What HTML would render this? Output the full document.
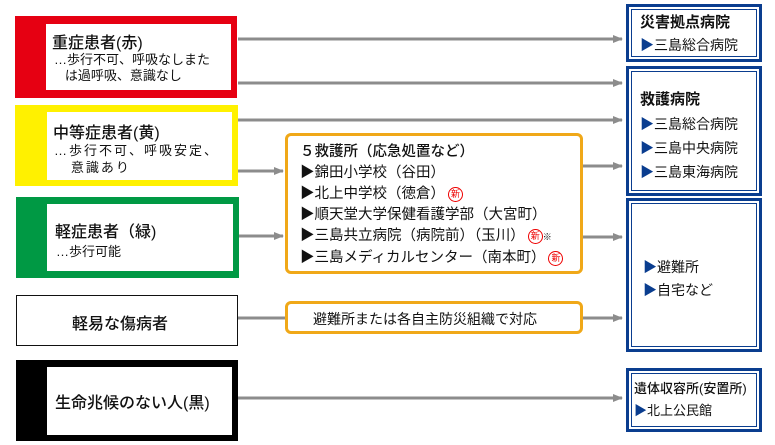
<!DOCTYPE html>
<html><head><meta charset="utf-8"><style>
body{margin:0;width:775px;height:445px;background:#fff;position:relative;overflow:hidden;font-family:"Liberation Sans","Noto Sans CJK JP",sans-serif;color:#111}
.a{position:absolute;box-sizing:border-box}
.in{position:absolute;background:#fff;box-sizing:border-box}
.db{position:absolute;box-sizing:border-box;border:3px solid #0a3d8f;}
.db::after{content:"";position:absolute;left:2px;top:2px;right:2px;bottom:2px;border:1px solid #0a3d8f}
.t{position:absolute;white-space:nowrap}
.h{font-weight:500}
.tri{color:#0a3d8f}
.org{position:absolute;box-sizing:border-box;border:3px solid #f0a818;border-radius:6px;background:#fff}
.shin{display:inline-block;width:13px;height:13px;border:1px solid #e00;border-radius:50%;color:#e00;font-size:9px;line-height:13px;text-align:center;vertical-align:1px;margin-left:3px}
</style></head><body>
<svg class="a" style="left:0;top:0" width="775" height="445">
<defs><marker id="m" markerWidth="10" markerHeight="8" refX="9" refY="4" orient="auto" markerUnits="userSpaceOnUse"><path d="M0,0L10,4L0,8z" fill="#8c8c8c"/></marker></defs>
<g stroke="#8c8c8c" stroke-width="3" fill="none">
<line x1="238" y1="39" x2="622" y2="39" marker-end="url(#m)"/>
<line x1="238" y1="83" x2="622" y2="83" marker-end="url(#m)"/>
<line x1="238" y1="120" x2="622" y2="120" marker-end="url(#m)"/>
<line x1="238" y1="171" x2="283" y2="171" marker-end="url(#m)"/>
<line x1="238" y1="236" x2="283" y2="236" marker-end="url(#m)"/>
<line x1="583" y1="166" x2="622" y2="166" marker-end="url(#m)"/>
<line x1="583" y1="237" x2="622" y2="237" marker-end="url(#m)"/>
<line x1="238" y1="318" x2="286" y2="318"/>
<line x1="583" y1="318" x2="622" y2="318" marker-end="url(#m)"/>
<line x1="238" y1="398" x2="622" y2="398" marker-end="url(#m)"/>
</g></svg>

<div class="a" style="left:15px;top:16px;width:222px;height:82px;background:#e60012"></div>
<div class="in" style="left:46px;top:24px;width:185px;height:66px"></div>
<div class="t h" style="left:52px;top:29px;font-size:16px">重症患者(赤)</div>
<div class="t" style="left:54px;top:52px;font-size:13px;line-height:16px">…歩行不可、呼吸なしまた<br>&nbsp;&nbsp;&nbsp;は過呼吸、意識なし</div>

<div class="a" style="left:15px;top:105px;width:223px;height:81px;background:#fff100"></div>
<div class="in" style="left:47px;top:112px;width:185px;height:68px"></div>
<div class="t h" style="left:53px;top:119px;font-size:16px">中等症患者(黄)</div>
<div class="t" style="left:54px;top:142px;font-size:13px;line-height:17px;letter-spacing:2px">…歩行不可、呼吸安定、<br>&nbsp;&nbsp;&nbsp;意識あり</div>

<div class="a" style="left:16px;top:197px;width:223px;height:81px;background:#009944"></div>
<div class="in" style="left:47px;top:204px;width:186px;height:67px"></div>
<div class="t h" style="left:55px;top:218px;font-size:16px">軽症患者（緑)</div>
<div class="t" style="left:56px;top:241px;font-size:13px">…歩行可能</div>

<div class="a" style="left:16px;top:295px;width:222px;height:51px;border:1px solid #111"></div>
<div class="t h" style="left:72px;top:310px;font-size:16px">軽易な傷病者</div>

<div class="a" style="left:16px;top:360px;width:222px;height:81px;background:#000"></div>
<div class="in" style="left:47px;top:367px;width:185px;height:68px"></div>
<div class="t h" style="left:55px;top:389px;font-size:16px">生命兆候のない人(黒)</div>

<div class="org" style="left:285px;top:133px;width:298px;height:141px"></div>
<div class="t" style="left:300px;top:142px;font-size:14.5px;line-height:21px"><span class="h">５救護所（応急処置など）</span><br>▶錦田小学校（谷田）<br>▶北上中学校（徳倉）<span class="shin">新</span><br>▶順天堂大学保健看護学部（大宮町）<br>▶三島共立病院（病院前）（玉川）<span class="shin">新</span><span style="font-size:9px">※</span><br>▶三島メディカルセンター（南本町）<span class="shin">新</span></div>

<div class="org" style="left:285px;top:301px;width:298px;height:33px"></div>
<div class="t" style="left:313px;top:309px;font-size:14px">避難所または各自主防災組織で対応</div>

<div class="db" style="left:626px;top:4px;width:136px;height:58px"></div>
<div class="t" style="left:640px;top:11px;font-size:14px;line-height:22px"><span style="font-size:15px;font-weight:bold">災害拠点病院</span><br><span class="tri">▶</span>三島総合病院</div>

<div class="db" style="left:626px;top:66px;width:136px;height:130px"></div>
<div class="t" style="left:640px;top:87px;font-size:14px;line-height:24px"><span style="font-size:15px;font-weight:bold">救護病院</span><br><span class="tri">▶</span>三島総合病院<br><span class="tri">▶</span>三島中央病院<br><span class="tri">▶</span>三島東海病院</div>

<div class="db" style="left:626px;top:198px;width:136px;height:154px"></div>
<div class="t" style="left:643px;top:256px;font-size:14px;line-height:23px"><span class="tri">▶</span>避難所<br><span class="tri">▶</span>自宅など</div>

<div class="db" style="left:626px;top:368px;width:136px;height:64px"></div>
<div class="t" style="left:634px;top:378px;font-size:13px;line-height:22px"><span style="font-weight:500">遺体収容所(安置所)</span><br><span class="tri">▶</span>北上公民館</div>
</body></html>
